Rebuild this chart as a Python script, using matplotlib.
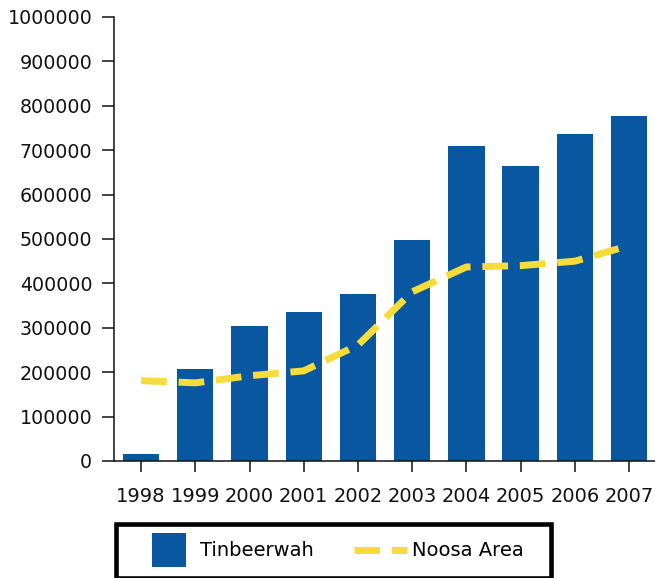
import numpy as np
import matplotlib
matplotlib.use('Agg')
import matplotlib.pyplot as plt
from matplotlib.lines import Line2D
from matplotlib.patches import Rectangle

years = ['1998', '1999', '2000', '2001', '2002', '2003', '2004', '2005', '2006', '2007']
tinbeerwah = [16000, 208000, 304000, 335000, 376000, 498000, 710000, 665000, 736000, 776000]
noosa = [181000, 176000, 192000, 203000, 261000, 381000, 437000, 440000, 450000, 485000]
yticks = [0, 100000, 200000, 300000, 400000, 500000, 600000, 700000, 800000, 900000, 1000000]

blue = '#0857a0'
yellow = '#f5dc3a'

plt.rcParams['font.family'] = ['DejaVu Sans']

fig = plt.figure(figsize=(6.55, 5.78), dpi=100)
ax = fig.add_axes([114/655, 117/578, 541/655, 444/578])

x = np.arange(len(years))
ax.bar(x, tinbeerwah, width=0.67, color=blue, zorder=2)
ax.plot(x, noosa, color=yellow, lw=5, dashes=[3.7, 1.7], zorder=3)

ax.set_xlim(-0.5, 9.48)
ax.set_ylim(0, 1000000)
ax.set_xticks(x)
ax.set_xticklabels(years)
ax.set_yticks(yticks)
ax.set_yticklabels([str(v) for v in yticks])

for s in ['top', 'right']:
    ax.spines[s].set_visible(False)
for s in ['left', 'bottom']:
    ax.spines[s].set_linewidth(1.1)
    ax.spines[s].set_color('#111111')
ax.tick_params(axis='y', direction='out', length=8.6, width=1.1, pad=7,
               labelsize=13.7, color='#111111', labelcolor='#111111')
ax.tick_params(axis='x', direction='out', length=8, width=1.1, pad=11,
               labelsize=14, color='#111111', labelcolor='#111111')

# legend below the axes with its own thick frame
h1 = Line2D([], [], marker='s', ms=24, mew=0, color=blue, linestyle='none')
h2 = Line2D([], [], color=yellow, lw=5, dashes=[3.7, 1.7])
fig.legend([h1, h2], ['Tinbeerwah', 'Noosa Area'], ncol=2, frameon=False,
           loc='center', bbox_to_anchor=(333/655, 27/578), fontsize=14,
           handlelength=2.7, handletextpad=0.25, columnspacing=2.1,
           borderpad=0, borderaxespad=0)
fig.add_artist(Rectangle((115.5/655, 0.5/578), 435/655, 54/578,
                         transform=fig.transFigure, fill=False,
                         lw=3.3, ec='black'))

fig.savefig('out.png', dpi=100)
